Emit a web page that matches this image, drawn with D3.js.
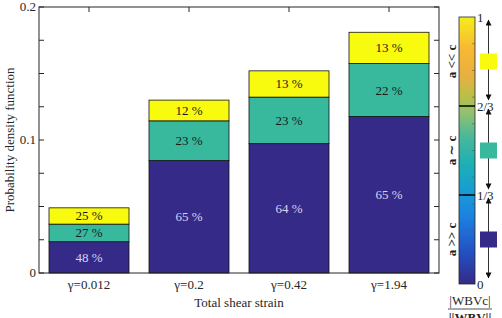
<!DOCTYPE html>
<html>
<head>
<meta charset="utf-8">
<script src="https://cdn.jsdelivr.net/npm/d3@7"></script>
<style>
  body { margin: 0; background: #fff; overflow: hidden; }
  svg { display: block; font-family: "Liberation Serif", "DejaVu Serif", serif; }
</style>
</head>
<body>
<svg id="chart" width="502" height="318"></svg>
<script>
"use strict";

// categories and stacked values
const strains = ["γ=0.012", "γ=0.2", "γ=0.42", "γ=1.94"];
const totals = [0.049, 0.130, 0.152, 0.181];
const pctLow = [48, 65, 64, 65];   // a >> c
const pctMid = [27, 23, 23, 22];   // a ~ c
const pctHigh = [25, 12, 13, 13];  // a << c

const yTicks = [0, 0.1, 0.2];
const yMinor = [0.025, 0.05, 0.075, 0.125, 0.15, 0.175];
const cbTicks = [0, 1 / 3, 2 / 3, 1];
const cbTickLabels = ["0", "1/3", "2/3", "1"];
const cbRegions = ["a >> c", "a ∼ c", "a << c"];

const colLow = "#352a87";
const colMid = "#38b99e";
const colHigh = "#f9fb0e";
const axisCol = "#262626";

const svg = d3.select("#chart");
const margin = {left: 39, top: 7, right: 439, bottom: 273};

const x = d3.scaleBand()
    .domain(strains)
    .range([margin.left, margin.right])
    .paddingInner(0.2)
    .paddingOuter(0.1);

const y = d3.scaleLinear()
    .domain([0, 0.2])
    .range([margin.bottom, margin.top]);

// stack layers
const rows = strains.map((s, i) => ({
    strain: s,
    low: totals[i] * pctLow[i] / 100,
    mid: totals[i] * pctMid[i] / 100,
    high: totals[i] * pctHigh[i] / 100,
    pLow: pctLow[i], pMid: pctMid[i], pHigh: pctHigh[i]
}));
const stack = d3.stack().keys(["low", "mid", "high"]);
const layers = stack(rows);
const fills = {low: colLow, mid: colMid, high: colHigh};
const textFill = {low: "#d8d4f0", mid: "#1a1a1a", high: "#1a1a1a"};
const pctKey = {low: "pLow", mid: "pMid", high: "pHigh"};

const bars = svg.append("g");
layers.forEach(layer => {
    const g = bars.append("g");
    g.selectAll("rect")
        .data(layer)
        .enter().append("rect")
        .attr("x", d => x(d.data.strain))
        .attr("width", x.bandwidth())
        .attr("y", d => y(d[1]))
        .attr("height", d => y(d[0]) - y(d[1]))
        .attr("fill", fills[layer.key])
        .attr("stroke", "#111")
        .attr("stroke-width", 0.8);
    g.selectAll("text")
        .data(layer)
        .enter().append("text")
        .attr("x", d => x(d.data.strain) + x.bandwidth() / 2)
        .attr("y", d => (y(d[0]) + y(d[1])) / 2 + 4.5)
        .attr("text-anchor", "middle")
        .attr("font-size", 13)
        .attr("fill", textFill[layer.key])
        .text(d => d.data[pctKey[layer.key]] + " %");
});

// axis box
const box = svg.append("g");
box.append("rect")
    .attr("x", margin.left).attr("y", margin.top)
    .attr("width", margin.right - margin.left)
    .attr("height", margin.bottom - margin.top)
    .attr("fill", "none")
    .attr("stroke", axisCol)
    .attr("stroke-width", 1);

const tickLen = 5;
yTicks.concat(yMinor).forEach(v => {
    box.append("line")
        .attr("x1", margin.left).attr("x2", margin.left + tickLen)
        .attr("y1", y(v)).attr("y2", y(v))
        .attr("stroke", axisCol);
    box.append("line")
        .attr("x1", margin.right).attr("x2", margin.right - tickLen)
        .attr("y1", y(v)).attr("y2", y(v))
        .attr("stroke", axisCol);
});
strains.forEach(s => {
    const cx = x(s) + x.bandwidth() / 2;
    box.append("line")
        .attr("x1", cx).attr("x2", cx)
        .attr("y1", margin.top).attr("y2", margin.top + tickLen)
        .attr("stroke", axisCol);
});

svg.append("g").selectAll("text")
    .data(yTicks)
    .enter().append("text")
    .attr("x", margin.left - 3)
    .attr("y", d => y(d) + 4)
    .attr("text-anchor", "end")
    .attr("font-size", 13)
    .attr("fill", axisCol)
    .text(d => d === 0 ? "0" : d3.format(".1f")(d));

svg.append("g").selectAll("text")
    .data(strains)
    .enter().append("text")
    .attr("x", d => x(d) + x.bandwidth() / 2)
    .attr("y", 289)
    .attr("text-anchor", "middle")
    .attr("font-size", 13)
    .attr("fill", axisCol)
    .text(d => d);

svg.append("text")
    .attr("x", (margin.left + margin.right) / 2)
    .attr("y", 307)
    .attr("text-anchor", "middle")
    .attr("font-size", 13)
    .attr("fill", axisCol)
    .text("Total shear strain");

svg.append("text")
    .attr("transform", "translate(14," + ((margin.top + margin.bottom) / 2) + ") rotate(-90)")
    .attr("text-anchor", "middle")
    .attr("font-size", 13)
    .attr("fill", axisCol)
    .text("Probability density function");

// colour bar
const cb = {x: 459, w: 16, top: 17, bottom: 284};
const cbY = d3.scaleLinear().domain([0, 1]).range([cb.bottom, cb.top]);

const stops = [
    [0, "#352a87"], [0.12, "#2450c4"], [0.25, "#1c80e0"], [0.33, "#1898d8"],
    [0.45, "#1cb0b4"], [0.55, "#48b89a"], [0.64, "#92c070"], [0.7, "#b8c048"],
    [0.78, "#e8b040"], [0.88, "#f8b834"], [1, "#f5ec1c"]
];
const grad = svg.append("defs").append("linearGradient")
    .attr("id", "cbgrad")
    .attr("x1", 0).attr("x2", 0).attr("y1", 1).attr("y2", 0);
grad.selectAll("stop")
    .data(stops)
    .enter().append("stop")
    .attr("offset", d => d[0])
    .attr("stop-color", d => d[1]);

svg.append("rect")
    .attr("x", cb.x).attr("y", cb.top)
    .attr("width", cb.w).attr("height", cb.bottom - cb.top)
    .attr("fill", "url(#cbgrad)")
    .attr("stroke", axisCol)
    .attr("stroke-width", 0.8);

// minor ticks on the colour bar
d3.range(1, 10).map(i => i / 10).forEach(v => {
    svg.append("line")
        .attr("x1", cb.x + cb.w).attr("x2", cb.x + cb.w - 3)
        .attr("y1", cbY(v)).attr("y2", cbY(v))
        .attr("stroke", "#555").attr("stroke-width", 0.6);
});
[1 / 3, 2 / 3].forEach(v => {
    svg.append("line")
        .attr("x1", cb.x).attr("x2", cb.x + cb.w)
        .attr("y1", cbY(v)).attr("y2", cbY(v))
        .attr("stroke", "#000").attr("stroke-width", 1.5);
});
svg.append("g").selectAll("text")
    .data(cbTicks)
    .enter().append("text")
    .attr("x", cb.x + cb.w + 2)
    .attr("y", d => cbY(d) + 5)
    .attr("font-size", 13)
    .attr("fill", axisCol)
    .text((d, i) => cbTickLabels[i]);

// region labels, arrows and swatches
const regionCols = [colLow, colMid, colHigh];
const marker = svg.select("defs").append("marker")
    .attr("id", "arrow")
    .attr("viewBox", "0 0 10 10")
    .attr("refX", 9).attr("refY", 5)
    .attr("markerUnits", "userSpaceOnUse")
    .attr("markerWidth", 7).attr("markerHeight", 6)
    .attr("orient", "auto-start-reverse");
marker.append("path").attr("d", "M0,0 L10,5 L0,10 Z").attr("fill", "#111");

const arrowX = 488.5;
cbRegions.forEach((label, i) => {
    const lo = i / 3, hi = (i + 1) / 3;
    const mid = cbY((lo + hi) / 2);
    svg.append("text")
        .attr("transform", "translate(456," + mid + ") rotate(-90)")
        .attr("text-anchor", "middle")
        .attr("font-size", 13)
        .attr("font-weight", "bold")
        .attr("fill", "#222")
        .text(label);
    svg.append("line")
        .attr("x1", arrowX).attr("x2", arrowX)
        .attr("y1", cbY(lo) - 6).attr("y2", cbY(hi) + 3)
        .attr("stroke", "#333").attr("stroke-width", 1)
        .attr("marker-start", "url(#arrow)")
        .attr("marker-end", "url(#arrow)");
    svg.append("rect")
        .attr("x", 480).attr("y", mid - 8)
        .attr("width", 17).attr("height", 16)
        .attr("fill", regionCols[i]);
});

// colour bar title as a fraction
svg.append("text")
    .attr("x", 470).attr("y", 305)
    .attr("text-anchor", "middle")
    .attr("font-size", 13)
    .attr("fill", axisCol)
    .text("|WBVc|");
svg.append("line")
    .attr("x1", 448).attr("x2", 492)
    .attr("y1", 309).attr("y2", 309)
    .attr("stroke", axisCol).attr("stroke-width", 0.8);
svg.append("text")
    .attr("x", 470).attr("y", 322)
    .attr("text-anchor", "middle")
    .attr("font-size", 13)
    .attr("font-weight", "bold")
    .attr("fill", axisCol)
    .text("||WBV||");
</script>
</body>
</html>
